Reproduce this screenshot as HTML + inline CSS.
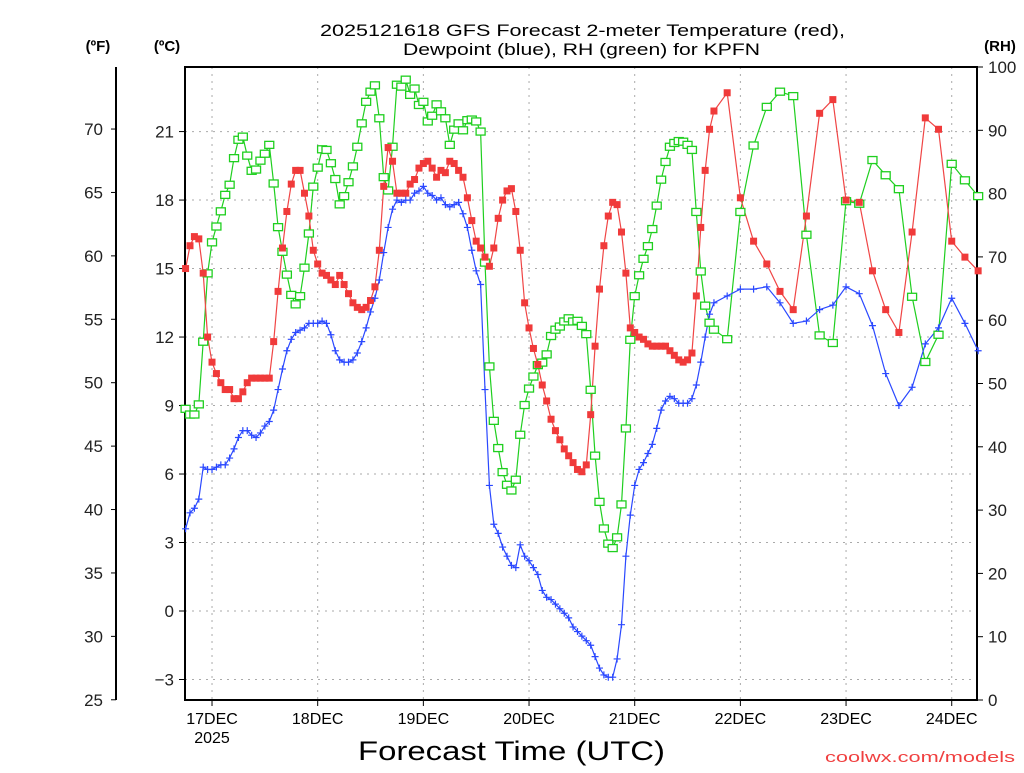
<!DOCTYPE html>
<html><head><meta charset="utf-8"><style>
body{margin:0;background:#fff;width:1024px;height:768px;overflow:hidden}
svg text{font-family:"Liberation Sans",sans-serif}
</style></head><body>
<svg id="chart" width="1024" height="768" xmlns="http://www.w3.org/2000/svg">
<g id="grid"></g>
<g id="axes"></g>
<g id="series"></g>
<text x="320" y="36" font-size="17" textLength="525" lengthAdjust="spacingAndGlyphs">2025121618 GFS Forecast 2-meter Temperature (red),</text>
<text x="403" y="55" font-size="17" textLength="357" lengthAdjust="spacingAndGlyphs">Dewpoint (blue), RH (green) for KPFN</text>
<text x="98" y="51" font-size="15" font-weight="bold" text-anchor="middle">(ºF)</text>
<text x="167" y="51" font-size="15" font-weight="bold" text-anchor="middle">(ºC)</text>
<text x="1000" y="51" font-size="15" font-weight="bold" text-anchor="middle">(RH)</text>
<text x="358" y="760" font-size="27" textLength="307" lengthAdjust="spacingAndGlyphs">Forecast Time (UTC)</text>
<text x="212" y="743" font-size="16" text-anchor="middle">2025</text>
<text x="825" y="762" font-size="15" fill="#f04040" textLength="190" lengthAdjust="spacingAndGlyphs">coolwx.com/models</text>
</svg>
<script>
const hours=[0,1,2,3,4,5,6,7,8,9,10,11,12,13,14,15,16,17,18,19,20,21,22,23,24,25,26,27,28,29,30,31,32,33,34,35,36,37,38,39,40,41,42,43,44,45,46,47,48,49,50,51,52,53,54,55,56,57,58,59,60,61,62,63,64,65,66,67,68,69,70,71,72,73,74,75,76,77,78,79,80,81,82,83,84,85,86,87,88,89,90,91,92,93,94,95,96,97,98,99,100,101,102,103,104,105,106,107,108,109,110,111,112,113,114,115,116,117,118,119,120,123,126,129,132,135,138,141,144,147,150,153,156,159,162,165,168,171,174,177,180];
const tempC=[15.0,16.0,16.4,16.3,14.8,12.0,10.9,10.4,10.0,9.7,9.7,9.3,9.3,9.6,10.0,10.2,10.2,10.2,10.2,10.2,11.8,14.0,15.9,17.5,18.7,19.3,19.3,18.3,17.3,15.8,15.2,14.8,14.7,14.5,14.3,14.7,14.3,13.9,13.5,13.3,13.2,13.3,13.6,14.2,15.8,18.6,20.3,19.7,18.3,
18.3,18.3,18.7,18.9,19.4,19.6,19.7,19.4,19.0,19.3,19.2,19.7,19.6,19.3,19.0,18.1,17.1,16.2,15.9,15.5,15.1,15.9,17.2,18.0,18.4,18.5,17.5,15.8,13.5,12.4,11.5,10.8,9.9,9.2,8.4,7.9,7.5,7.1,6.8,6.5,6.2,6.1,6.4,8.6,11.6,14.1,16.0,17.3,
17.9,17.8,16.6,14.8,12.4,12.2,12.0,11.9,11.7,11.6,11.6,11.6,11.6,11.4,11.2,11.0,10.9,11.0,11.3,13.8,16.8,19.3,21.1,21.9,
22.7,18.1,16.2,15.2,14.0,13.2,17.3,21.8,22.4,18.0,17.9,14.9,13.2,12.2,16.6,21.6,21.1,16.2,15.5,14.9];
const dewC=[3.6,4.3,4.5,4.9,6.3,6.2,6.2,6.3,6.4,6.4,6.7,7.1,7.6,7.9,7.9,7.7,7.6,7.8,8.1,8.3,8.8,9.7,10.6,11.4,11.9,12.2,12.3,12.4,12.6,12.6,12.6,12.7,12.6,12.1,11.4,11.0,10.9,10.9,11.0,11.3,11.8,12.4,13.1,13.7,14.5,15.7,16.8,17.6,18.0,
17.9,18.0,18.0,18.3,18.4,18.6,18.3,18.2,18.0,18.1,17.8,17.7,17.8,17.9,17.4,16.8,15.8,14.9,14.3,9.7,5.5,3.8,3.4,2.8,2.4,2.0,1.9,2.9,2.4,2.2,1.9,1.6,0.9,0.6,0.5,0.3,0.1,-0.1,-0.3,-0.7,-0.9,-1.1,-1.3,-1.5,-2.0,-2.5,-2.8,-2.9,
-2.9,-2.1,-0.6,2.4,4.2,5.5,6.2,6.5,6.9,7.3,8.0,8.8,9.2,9.4,9.3,9.1,9.1,9.1,9.3,9.9,10.9,12.0,13.0,13.5,
13.8,14.1,14.1,14.2,13.5,12.6,12.7,13.2,13.4,14.2,13.9,12.5,10.4,9.0,9.8,11.7,12.4,13.7,12.6,11.4];
const rhPct=[46.0,45.1,45.1,46.7,56.6,67.4,72.3,74.8,77.2,79.8,81.4,85.6,88.5,89.0,86.0,83.6,83.8,85.2,86.3,87.7,81.6,74.7,70.8,67.2,64.0,62.5,63.8,68.3,73.7,81.1,84.1,87.0,86.9,84.8,82.3,78.3,79.6,81.8,84.3,87.4,91.1,94.5,96.1,97.1,91.9,82.6,80.5,87.4,97.2,
96.9,98.0,95.6,96.6,94.0,94.5,91.4,92.3,94.1,93.0,91.9,87.7,90.1,91.1,90.0,91.6,91.7,91.4,89.8,69.1,52.7,44.1,39.8,36.0,34.0,33.1,34.8,41.9,46.6,49.2,51.1,52.9,53.3,54.6,57.5,58.5,59.0,59.8,60.3,59.8,59.9,59.1,57.8,49.0,38.6,31.3,27.1,24.7,
24.0,25.7,30.9,42.9,56.9,63.8,67.1,69.7,71.7,74.4,78.1,82.2,85.0,87.4,88.0,88.3,88.2,87.7,86.9,77.1,67.7,62.3,59.6,58.5,
57.0,77.1,87.6,93.7,96.1,95.4,73.5,57.6,56.4,78.8,78.4,85.3,82.9,80.7,63.7,53.4,57.7,84.7,82.1,79.6];
const dayLabels=["17DEC","18DEC","19DEC","20DEC","21DEC","22DEC","23DEC","24DEC"];
const dayHours=[6,30,54,78,102,126,150,174];
const cTicks=[-3,0,3,6,9,12,15,18,21];
const fTicks=[25,30,35,40,45,50,55,60,65,70];
const rhTicks=[0,10,20,30,40,50,60,70,80,90,100];

const X0=185.6,PXH=4.403,L=185,R=977,T=67,B=700;
const xS=h=>X0+PXH*h;
const yC=c=>611-22.83*c;
const yF=f=>yC((f-32)/1.8);
const yRH=r=>B-(B-T)*r/100;
const NS="http://www.w3.org/2000/svg";
function mk(tag,parent,attrs){const e=document.createElementNS(NS,tag);for(const k in attrs)e.setAttribute(k,attrs[k]);parent.appendChild(e);return e;}
const grid=document.getElementById('grid'),axes=document.getElementById('axes'),ser=document.getElementById('series');

cTicks.forEach(c=>{const y=yC(c);
 const g=mk('line',grid,{x1:L,x2:R,y1:y,y2:y,stroke:'#aaa','stroke-dasharray':'2,5'});
 
 
 mk('line',axes,{x1:L-6,x2:L,y1:y,y2:y,stroke:'#000'});
 const t=mk('text',axes,{x:L-11,y:y+6,'font-size':17,'text-anchor':'end',fill:'#222'});t.textContent=c<0?'\u2212'+(-c):c;
 
 });
fTicks.forEach(f=>{const y=yF(f);
 mk('line',axes,{x1:111,x2:116,y1:y,y2:y,stroke:'#000'});
 const t=mk('text',axes,{x:103,y:y+6,'font-size':17,'text-anchor':'end',fill:'#222'});t.textContent=f;
 
 });
rhTicks.forEach(r=>{const y=yRH(r);
 mk('line',axes,{x1:R,x2:R+6,y1:y,y2:y,stroke:'#000'});
 const t=mk('text',axes,{x:988,y:y+6,'font-size':17,fill:'#222'});t.textContent=r;
 
 });
dayHours.forEach((h,i)=>{const x=xS(h);
 const g=mk('line',grid,{x1:x,x2:x,y1:T,y2:B,stroke:'#aaa','stroke-dasharray':'2,5'});
 
 
 mk('line',axes,{x1:x,x2:x,y1:B,y2:B+6,stroke:'#000'});
 const t=mk('text',axes,{x:x,y:724,'font-size':16,'text-anchor':'middle'});t.textContent=dayLabels[i];
 
 });
mk('line',axes,{x1:116,x2:116,y1:T,y2:B,stroke:'#000','stroke-width':2});
const fr=mk('rect',axes,{x:L,y:T,width:R-L,height:B-T,fill:'none',stroke:'#000','stroke-width':2});



function line(vals,yf,color,name){const p=vals.map((v,i)=>xS(hours[i]).toFixed(1)+','+yf(v).toFixed(1)).join(' ');
 const pl=mk('polyline',ser,{points:p,fill:'none',stroke:color,'stroke-width':1.2});
 
 }
line(rhPct,yRH,'#1fcf1f','rh-line');
line(tempC,yC,'#f04545','temperature-line');
line(dewC,yC,'#2a48ff','dewpoint-line');
rhPct.forEach((v,i)=>{const m=mk('rect',ser,{x:xS(hours[i])-4.5,y:yRH(v)-3.5,width:9,height:7,fill:'#fff',stroke:'#1fcf1f','stroke-width':1.3});
 
 });
tempC.forEach((v,i)=>{const m=mk('rect',ser,{x:xS(hours[i])-3.5,y:yC(v)-3.5,width:7,height:7,fill:'#f03a3a'});
 
 });
dewC.forEach((v,i)=>{const x=xS(hours[i]),y=yC(v);
 const m=mk('path',ser,{d:`M${x-3.5},${y}H${x+3.5}M${x},${y-3.5}V${y+3.5}`,stroke:'#2a48ff','stroke-width':1.2});
 
 });
</script>
</body></html>
